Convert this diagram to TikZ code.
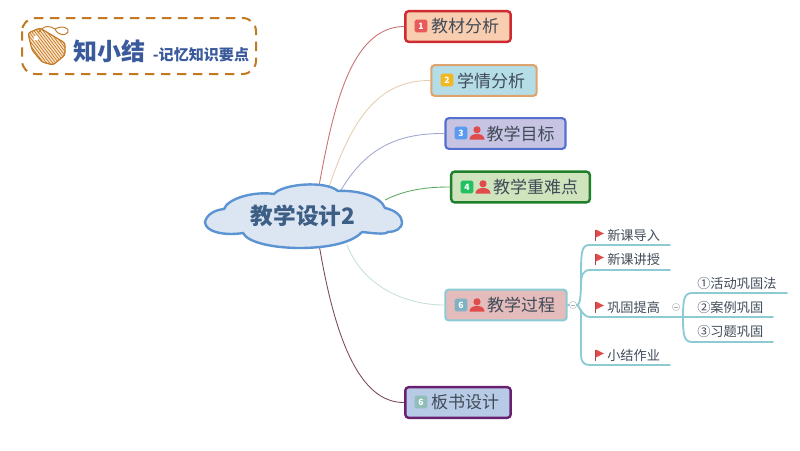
\documentclass[tikz,border=0pt]{standalone}
\usepackage{fontspec}
\setmainfont{Noto Sans CJK SC}
\definecolor{txtc}{HTML}{404B58}
\definecolor{leafc}{HTML}{8CCAD4}
\definecolor{logoc}{HTML}{C27A22}
\definecolor{logob}{HTML}{3A5A9C}
\definecolor{iconred}{HTML}{E04C4C}
\tikzset{
  box/.style={draw=#1,line width=1.6pt,rounded corners=2.5pt,minimum height=23pt,inner sep=0pt,text=txtc,font=\fontsize{12.75}{15}\selectfont},
  badge/.style={fill=#1,rounded corners=1.2pt,minimum size=9.5pt,inner sep=0pt,text=white,font=\fontsize{6.5}{7}\selectfont\bfseries},
  leaf/.style={inner sep=0pt,text=txtc,font=\fontsize{9.9}{12}\selectfont},
  rootlink/.style={line width=.65pt},
  leafline/.style={draw=leafc,line width=1.4pt,line cap=round},
  collapse/.style={circle,draw=black!25,line width=.4pt,minimum size=5.5pt,inner sep=0pt,fill=white},
  flagicon/.pic={
    \fill[iconred!80!black] (-4.5,-5.5) rectangle (-3.2,6);
    \fill[iconred] (-3.2,-5.5) -- (5,-1.5) -- (-3.2,2.5) -- cycle;
  },
  person/.pic={
    \fill[iconred] (0,-3.2) circle (3.6);
    \fill[iconred] (-7.5,6.5) .. controls (-7.5,2.5) and (-4,1) .. (0,1) .. controls (4,1) and (7.5,2.5) .. (7.5,6.5) -- cycle;
  }
}
\begin{document}
\begin{tikzpicture}[x=.75pt,y=-.75pt]
\useasboundingbox (0,0) rectangle (800,450);
% logo
\draw[logoc,line width=1.5pt,dash pattern=on 7pt off 5pt,rounded corners=10pt] (22,18) rectangle (256,74);
\begin{scope}
\clip (28,33) -- (40,28) -- (65,43) -- (65,55) -- (53,65) -- (42,62) -- (32,50) -- cycle;
\fill[orange!20!white] (25,25) rectangle (70,70);
\foreach \k in {0,3,...,84} \draw[logoc,line width=.55pt] (-10+\k,24) -- (-10+\k+35,70);
\end{scope}
\draw[logoc,line width=.9pt,rounded corners=2pt] (28,33) -- (40,28) -- (65,43) -- (65,55) -- (53,65) -- (42,62) -- (32,50) -- cycle;
\fill[white] (36,38) circle (2.5);
\draw[logoc,line width=.7pt] (38,33) .. controls (45,24) and (50,26) .. (55,29) .. controls (62,25) and (70,28) .. (68,32) .. controls (66,36) and (58,36) .. (55,29);
\node[inner sep=0pt,text=logob,font=\fontsize{18}{20}\bfseries\selectfont] (logoa) at (109,51) {知小结};
\node[inner sep=0pt,text=logob,font=\fontsize{11.3}{13}\bfseries\selectfont] (logob) at (201,55) {-记忆知识要点};
% cloud ends of the links
\coordinate (r1) at (319,186);
\coordinate (r2) at (329,187);
\coordinate (r3) at (341,190);
\coordinate (r4) at (385,200);
\coordinate (r5) at (347,245);
\coordinate (r6) at (319,244);
% boxes
\definecolor{b1f}{HTML}{F8CDB0}\definecolor{b1d}{HTML}{CE2A30}
\definecolor{b2f}{HTML}{B5DDE8}\definecolor{b2d}{HTML}{DDA46E}
\definecolor{b3f}{HTML}{C6C4E2}\definecolor{b3d}{HTML}{5470CF}
\definecolor{b4f}{HTML}{CFE3BC}\definecolor{b4d}{HTML}{1F7F2A}
\definecolor{b5f}{HTML}{E4BCBC}
\definecolor{b6f}{HTML}{B8CBE6}\definecolor{b6d}{HTML}{6A2070}
\node[box=b1d,line width=1.8pt,fill=b1f,minimum width=79pt] (b1) at (458,26.5) {\hspace*{10.5pt}教材分析};
\node[box=b2d,fill=b2f,minimum width=79pt] (b2) at (484,80.5) {\hspace*{10.5pt}学情分析};
\node[box=b3d,fill=b3f,minimum width=90pt] (b3) at (505.5,133.5) {\hspace*{22.5pt}教学目标};
\node[box=b4d,line width=1.8pt,fill=b4f,minimum width=104pt] (b4) at (520.5,187) {\hspace*{22.5pt}教学重难点};
\node[box=leafc,fill=b5f,minimum width=91pt] (b5) at (506,305) {\hspace*{22.5pt}教学过程};
\node[box=b6d,line width=1.8pt,fill=b6f,minimum width=79pt] (b6) at (458,402.5) {\hspace*{10.5pt}板书设计};
% links
\definecolor{l1}{HTML}{C87070}\definecolor{l2}{HTML}{E5CDB0}\definecolor{l3}{HTML}{A0A8D0}
\definecolor{l4}{HTML}{5FA860}\definecolor{l5}{HTML}{C5E0DC}\definecolor{l6}{HTML}{7A4A55}
\draw[rootlink,draw=l1] (r1) .. controls (333,110) and (350,27) .. (b1.west);
\draw[rootlink,draw=l2] (r2) .. controls (350,125) and (375,80) .. (b2.west);
\draw[rootlink,draw=l3] (r3) .. controls (365,150) and (395,133) .. (b3.west);
\draw[rootlink,draw=l4] (r4) .. controls (405,190) and (425,187) .. (b4.west);
\draw[rootlink,draw=l5] (r5) .. controls (365,290) and (410,305) .. (b5.west);
\draw[rootlink,draw=l6] (r6) .. controls (335,340) and (360,403) .. (b6.west);
% cloud outline
\definecolor{cloudf}{HTML}{DCE6F2}\definecolor{cloudd}{HTML}{5B93D3}
\draw[fill=cloudf,draw=cloudd,line width=1.8pt]
 (205,222) .. controls (207,214) and (215,210) .. (224,209)
 .. controls (228,198) and (255,191) .. (274,194)
 .. controls (282,184) and (325,180) .. (338,191)
 .. controls (355,190) and (380,195) .. (385,208)
 .. controls (395,210) and (402,216) .. (402,222)
 .. controls (402,229) and (395,232) .. (388,232)
 .. controls (385,235) and (372,233) .. (362,232)
 .. controls (350,245) and (320,248) .. (300,248)
 .. controls (275,248) and (248,243) .. (243,233)
 .. controls (225,236) and (205,232) .. (205,222) -- cycle;
\definecolor{titlec}{HTML}{3E5F85}
\node[inner sep=0pt,text=titlec,font=\fontsize{17}{20}\bfseries\selectfont] (title) at (303,216) {教学设计2};
% badges
\definecolor{n1c}{HTML}{E85A5A}\definecolor{n2c}{HTML}{F2B824}\definecolor{n3c}{HTML}{5A9BEF}
\definecolor{n4c}{HTML}{22C060}\definecolor{n5c}{HTML}{7FB2C2}\definecolor{n6c}{HTML}{8FBDB8}
\node[badge=n1c] (n1) at (421,26) {1};
\node[badge=n2c] (n2) at (447,80) {2};
\node[badge=n3c] (n3) at (461,133) {3};
\node[badge=n4c] (n4) at (467,187) {4};
\node[badge=n5c] (n5) at (461,305) {6};
\node[badge=n6c] (n6) at (421,402) {6};
\pic at (477,133) {person};
\pic at (483,187) {person};
\pic at (477,305) {person};
% leaves
\node[collapse] (c1) at (573,305) {};
\draw[black!30,line width=.4pt] (571,305) -- (575,305);
\draw[leafline] (b5.east) -- (c1);
\coordinate (l1e) at (670,245);
\coordinate (l2e) at (670,270);
\coordinate (l3e) at (773,317);
\coordinate (l4e) at (670,365);
\draw[leafline] (c1.east) .. controls (581,305) and (581,290) .. (581,275) .. controls (581,250) and (582,245) .. (590,245) -- (l1e);
\draw[leafline] (581,285) .. controls (581,275) and (583,270) .. (590,270) -- (l2e);
\draw[leafline] (c1.east) .. controls (579,305) and (582,317) .. (590,317) -- (l3e);
\draw[leafline] (581,310) -- (581,355) .. controls (581,362) and (584,365) .. (590,365) -- (l4e);
\node[leaf,anchor=west] (f1) at (607,235) {新课导入};
\node[leaf,anchor=west] (f2) at (607,259) {新课讲授};
\node[leaf,anchor=west] (f3) at (607,307) {巩固提高};
\node[leaf,anchor=west] (f4) at (607,355) {小结作业};
\pic at (599,235) {flagicon};
\pic at (599,259) {flagicon};
\pic at (599,307) {flagicon};
\pic at (599,355) {flagicon};
\node[collapse] (c2) at (676,307) {};
\draw[black!30,line width=.4pt] (674,307) -- (678,307);
\coordinate (s1e) at (787,293);
\coordinate (s3e) at (773,342);
\draw[leafline] (683,317) .. controls (683,300) and (684,293) .. (692,293) -- (s1e);
\draw[leafline] (683,317) .. controls (683,335) and (684,342) .. (692,342) -- (s3e);
\node[leaf,anchor=west] (g1) at (697,283) {①活动巩固法};
\node[leaf,anchor=west] (g2) at (697,307) {②案例巩固};
\node[leaf,anchor=west] (g3) at (697,331) {③习题巩固};
\end{tikzpicture}
\end{document}
